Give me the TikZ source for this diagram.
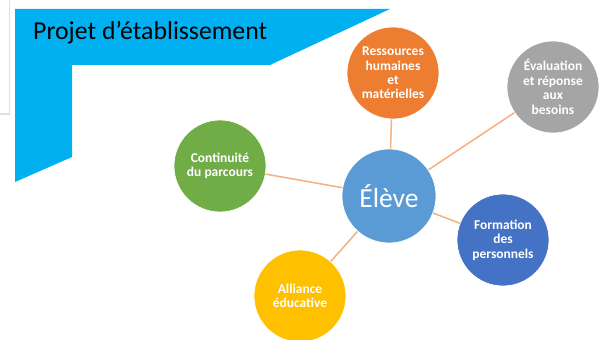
\documentclass[tikz,border=0pt]{standalone}
\usepackage{fontspec}
\setmainfont{Carlito}
\usepackage{tikz}
\usetikzlibrary{positioning}
\definecolor{bandeau}{HTML}{00B0F0}
\definecolor{lien}{HTML}{F4B183}
\definecolor{orange}{HTML}{ED7D31}
\definecolor{gris}{HTML}{A5A5A5}
\definecolor{vert}{HTML}{70AD47}
\definecolor{bleuclair}{HTML}{5B9BD5}
\definecolor{jaune}{HTML}{FFC000}
\definecolor{bleu}{HTML}{4472C4}
\tikzset{
    %Define style for the satellite circles
    bulle/.style={
           circle,
           draw=white, line width=0.6pt,
           minimum size=2.76cm,
           inner sep=0pt,
           text=white,
           font=\fontsize{11.5}{12.3}\selectfont\bfseries,
           align=center},
    %Define style for the central circle
    centre/.style={
           bulle,
           minimum size=2.82cm,
           fill=bleuclair,
           font=\fontsize{23.5}{26}\selectfont},
    % Define link style
    trait/.style={
           draw=lien,
           line width=1.3pt}
}
\begin{document}
\begin{tikzpicture}[x=0.03cm,y=-0.03cm]
\useasboundingbox (0,0) rectangle (602,340);

 %frame and banner
\draw[black!12, line width=1.5pt] (9.5,0) -- (9.5,114) -- (0,114);
\fill[bandeau] (15,9) -- (390,9) -- (270,65) -- (72,65) -- (72,157) -- (15,182) -- cycle;
\node[anchor=base west, inner sep=0pt, font=\fontsize{22}{24}\selectfont] (titre) at (33,40) {Projet d’établissement};

 %nodes
\node[centre] (eleve) at (389,196) {Élève};
\node[bulle, fill=orange] (ressources) at (393,73) {Ressources\\humaines\\et\\matérielles};
\node[bulle, fill=gris] (evaluation) at (553,87) {Évaluation\\et réponse\\aux\\besoins};
\node[bulle, fill=vert] (continuite) at (220,166) {Continuité\\du parcours};
\node[bulle, fill=jaune] (alliance) at (300,296) {Alliance\\éducative};
\node[bulle, fill=bleu] (formation) at (503,240) {Formation\\des\\personnels};

 \path[trait]
    (eleve) edge (ressources)
    	edge (evaluation)
    	edge (continuite)
    	edge (alliance)
    	edge (formation);

\end{tikzpicture}
\end{document}
